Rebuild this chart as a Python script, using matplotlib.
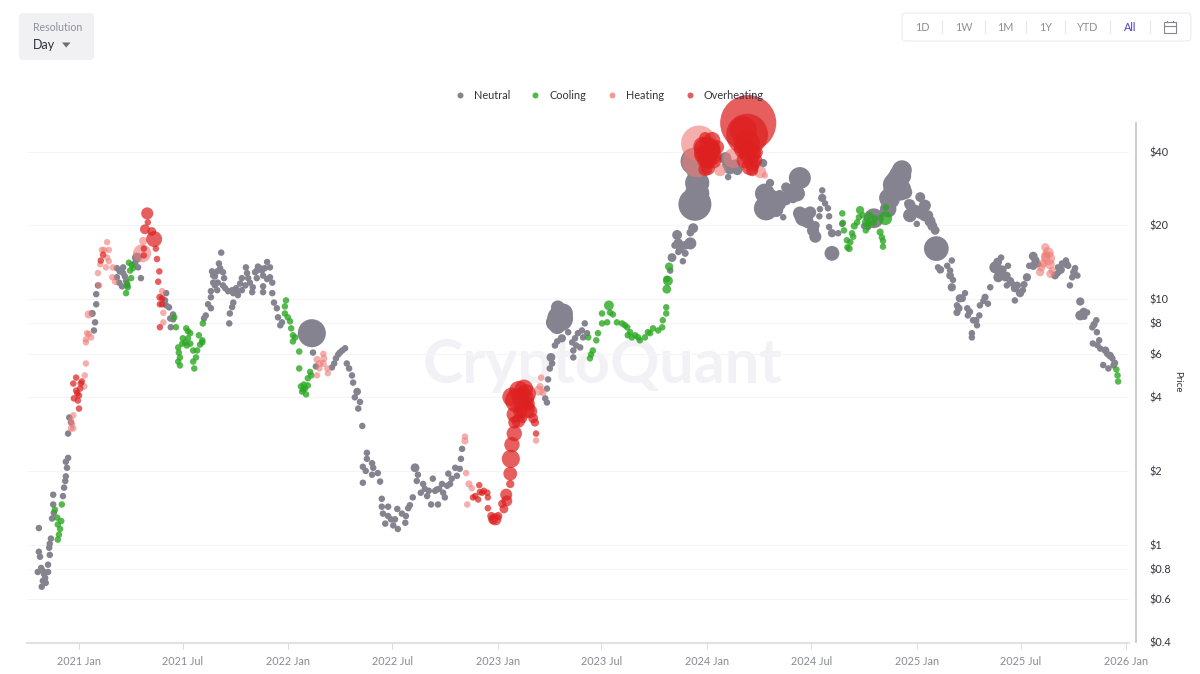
"""Token price coloured by market temperature, daily bubbles on a log scale."""
import matplotlib
matplotlib.use("Agg")
import matplotlib.dates as mdates
import matplotlib.pyplot as plt
import pandas as pd
from matplotlib.patches import FancyBboxPatch, Polygon, Rectangle
from matplotlib.ticker import FixedLocator, NullLocator

plt.rcParams["font.family"] = ["Lato", "DejaVu Sans"]

# (days since 2021-01-01, price) - every normal sized bubble
neutral_small = [
    (-70, 1.17), (-70, .937), (-68, .894), (-72, .775), (-66, .805), (-63, .783), (-54, .775), (-54, .83),
    (-61, .76), (-59, .733), (-63, .713), (-58, .70), (-65, .675), (-51, .91), (-52, .973), (-51, 1.01),
    (-49, 1.06), (-47, 1.28), (-45, 1.46), (-45, 1.60), (-44, 1.35), (-28, 1.58), (-26, 1.71), (-24, 1.82),
    (-23, 1.90), (-21, 2.06), (-23, 2.18), (-19, 2.26), (-19, 2.84), (-17, 3.30), (-14, 3.15),
    (26, 7.47), (28, 8.06), (30, 9.55), (30, 10.5), (33, 11.4), (66, 13.4), (77, 13.5), (66, 12.3), (70, 11.7),
    (75, 11.3), (77, 12.8), (82, 11.9), (84, 11.4), (71, 13.0), (80, 12.4), (108, 12.2), (103, 13.5), (98, 14.1),
    (152, 10.6), (152, 9.45), (157, 9.28), (164, 8.68), (159, 8.36), (164, 8.29), (160, 7.7), (150, 9.9),
    (221, 8.6), (218, 8.36), (225, 9.55), (230, 9.2), (230, 10.2), (230, 10.8), (241, 10.9), (237, 11.4),
    (242, 11.7), (234, 11.7), (237, 12.4), (232, 13.0), (234, 12.5), (241, 13.0), (246, 13.4), (244, 14.0),
    (248, 15.5), (251, 12.9), (253, 12.2), (251, 11.4), (255, 11.1), (260, 10.8), (269, 10.6), (277, 10.4),
    (276, 10.7), (284, 10.9), (281, 11.6), (284, 12.2), (293, 12.8), (295, 12.2), (291, 13.5), (302, 10.7),
    (303, 11.2), (310, 12.2), (310, 13.1), (316, 13.4), (328, 14.2), (333, 13.5), (321, 12.5), (333, 12.3),
    (328, 12.1), (337, 11.7), (321, 11.3), (321, 10.7), (337, 10.6), (269, 9.7), (267, 9.3), (263, 8.76),
    (262, 7.98), (340, 9.7), (345, 9.2), (347, 8.45), (354, 8.06), (351, 7.84), (307, 12.9), (319, 13.1),
    (324, 13.4), (312, 13.6), (298, 11.7), (290, 11.4), (267, 10.9), (274, 11.1),
    (408, 6.07), (413, 5.33), (441, 5.28), (445, 5.48), (452, 5.96), (459, 6.19), (464, 6.32), (448, 5.75),
    (455, 6.07), (467, 5.48), (471, 5.23), (476, 4.9), (478, 4.58), (481, 3.99), (490, 3.82), (487, 3.59),
    (494, 3.05), (495, 1.79), (502, 2.37), (502, 2.24), (495, 2.08), (500, 2.0), (511, 2.15), (513, 2.06),
    (511, 1.93), (521, 1.96), (525, 1.81), (528, 1.54), (528, 1.43), (539, 1.43), (530, 1.34), (539, 1.31),
    (534, 1.22), (548, 1.2), (555, 1.40), (551, 1.27), (556, 1.16), (544, 1.27), (563, 1.34), (569, 1.23),
    (577, 1.45), (582, 1.56), (591, 1.93), (589, 1.82), (600, 1.77), (596, 1.63), (607, 1.58), (614, 1.46),
    (617, 1.86), (621, 1.66), (626, 1.46), (633, 1.77), (635, 1.63), (638, 1.56), (644, 1.95), (647, 1.77),
    (656, 2.06), (659, 1.91), (664, 2.04), (666, 2.24), (668, 2.46), (603, 1.69), (610, 1.66), (624, 1.68),
    (628, 1.69), (642, 1.74), (650, 1.86), (570, 1.31), (574, 1.41),
    (818, 4.72), (816, 4.33), (813, 3.95), (816, 3.8), (853, 7.35), (860, 6.68), (862, 6.19), (862, 5.8),
    (870, 7.28), (877, 7.47), (882, 7.98), (886, 7.28), (874, 6.37), (867, 6.49), (879, 7.0),
    (1031, 13.1), (1053, 14.3), (1045, 15.6), (1132, 31.5), (1228, 21.6), (1291, 21.8), (1292, 23.3),
    (1296, 27.8), (1301, 24.6), (1306, 23.5), (1308, 19.7), (1324, 18.6), (1331, 20.3), (1369, 19.9),
    (1376, 19.7), (1461, 20.3), (1498, 13.5), (1514, 13.7), (1522, 14.4), (1519, 13.1), (1524, 12),
    (1545, 10.6), (1531, 9.45), (1549, 9.2), (1550, 8.6), (1559, 8.22), (1570, 8.6), (1566, 7.84),
    (1557, 7.28), (1557, 7.0), (1571, 9.45), (1585, 9.6), (1577, 9.85), (1589, 11.2), (1608, 14.8),
    (1620, 13.7), (1618, 11.4), (1615, 12.2), (1627, 11.6), (1632, 9.9), (1646, 10.9), (1657, 13.7),
    (1673, 13.9), (1612, 12.6), (1707, 12.8), (1707, 13.5), (1714, 14), (1721, 14.4), (1725, 13.7),
    (1737, 13.4), (1732, 12.3), (1741, 12.5), (1728, 11.4), (1758, 8.84), (1753, 8.5), (1774, 8.22),
    (1767, 7.69), (1775, 7.35), (1768, 6.61), (1779, 6.81), (1781, 6.3), (1786, 5.4), (1793, 6.0),
    (1802, 5.75), (1795, 5.23), (1804, 5.38),
]
# (days, price, relative bubble width)
neutral_large = [
    (23, 8.76, 1.3), (101, 14.8, 1.8), (406, 7.28, 5.1), (485, 4.21, 1.4), (586, 2.06, 1.6),
    (821, 5.23, 1.2), (825, 5.48, 1.2), (823, 5.8, 1.6), (830, 6.49, 1.2), (834, 6.74, 1.2),
    (835, 9.28, 2.5), (844, 8.76, 3.6), (830, 8.06, 3.3), (839, 8.36, 4.7), (842, 6.94, 1.5), (865, 6.94, 1.2),
    (834, 7.8, 3),
    (1034, 14.8, 1.6), (1039, 16.6, 1.3), (1043, 18.3, 1.8), (1057, 15.4, 1.3), (1066, 16.9, 2.2),
    (1066, 18.7, 1.4), (1071, 19.5, 1.8), (1048, 16.6, 1.5), (1074, 24.4, 6), (1078, 29.8, 4.4),
    (1073, 37.6, 2.9), (1076, 33.5, 3.5), (1127, 37.6, 2.2), (1135, 34.2, 2.2), (1148, 33.6, 1.8),
    (1057, 16.6, 1.6), (1045, 16.9, 1.8), (1048, 16, 1.5), (1078, 27, 4.4), (1073, 36.5, 5),
    (1132, 35.5, 2.2), (1144, 35.5, 1.8),
    (1193, 35.9, 1.5), (1198, 23.5, 4.4), (1196, 27, 3.6), (1205, 29.8, 1.5), (1219, 24.6, 2.9),
    (1233, 28.6, 1.8), (1257, 31.2, 4), (1252, 27, 2.9), (1245, 25.8, 1.8), (1222, 26.5, 2),
    (1209, 25.9, 2.9), (1240, 26.5, 2.5), (1249, 28.3, 2.5), (1216, 23.1, 2.5), (1233, 25.3, 1.8),
    (1264, 21.6, 3.3), (1275, 22.6, 2.2), (1280, 19.1, 2.2), (1296, 25.9, 1.5), (1308, 21.8, 1.1),
    (1271, 20.6, 2.2), (1257, 22.4, 2.5), (1284, 20, 1.6), (1284, 18, 2.2),
    (1313, 18.6, 1.5), (1313, 15.4, 2.7), (1386, 21.4, 3.6), (1411, 25.9, 3.3), (1427, 30.6, 4),
    (1435, 33.6, 3.6), (1420, 27.8, 3.6), (1441, 27.3, 2.5), (1446, 24.6, 1.5), (1449, 22, 2.5),
    (1432, 32, 4), (1423, 29.3, 4.4), (1414, 25.6, 3.6), (1432, 28, 4), (1411, 23.3, 3), (1449, 24.3, 2),
    (1458, 23.1, 2), (1467, 22.4, 2), (1475, 22, 2.2), (1484, 20.8, 2), (1493, 19.1, 1.6),
    (1467, 26.1, 1.8), (1475, 24.1, 2.2), (1481, 22, 1.8), (1488, 19.9, 1.8), (1495, 16.1, 4.5),
    (1522, 11.2, 1.5), (1536, 10.1, 1.5), (1531, 8.84, 1.3), (1540, 10.1, 1.4), (1580, 10.2, 1.3),
    (1598, 13.5, 2.2), (1603, 12.3, 1.8), (1606, 13, 2), (1632, 11.1, 1.5), (1641, 10.6, 1.5),
    (1653, 12.3, 1.5), (1664, 15, 1.6), (1664, 13.7, 1.5), (1746, 9.8, 1.5), (1746, 8.6, 1.8),
    (1502, 13.2, 1.4), (1519, 12.5, 1.4), (1534, 9.2, 1.4), (1553, 8.9, 1.3), (1564, 8.2, 1.3),
    (1602, 14.2, 1.6), (1610, 13.2, 1.6), (1618, 12.5, 1.4), (1624, 11.9, 1.4), (1636, 11.4, 1.4),
    (1648, 11.5, 1.3), (1668, 14.4, 1.5), (1702, 12.5, 1.4), (1712, 13.2, 1.5), (1722, 13.9, 1.4),
    (1735, 12.9, 1.4), (1752, 8.9, 1.5), (1770, 7.9, 1.3), (1776, 6.5, 1.2), (1790, 6.2, 1.4),
    (1798, 5.9, 1.4), (1806, 5.5, 1.3),
]
cooling_small = [
    (-30, 1.46), (-42, 1.39), (-38, 1.29), (-37, 1.21), (-31, 1.25), (-33, 1.16), (-35, 1.10), (-37, 1.05),
    (82, 10.6), (84, 11.6), (85, 11.2), (91, 12.2), (89, 13.1), (87, 14.1), (94, 13.4), (92, 13.8),
    (166, 8.45), (169, 7.7), (187, 7.62), (194, 7.28), (190, 7.42), (209, 7.14), (215, 6.81), (181, 6.94),
    (190, 6.94), (173, 6.37), (174, 6.07), (176, 5.8), (173, 5.58), (176, 5.38), (180, 6.6), (194, 6.6),
    (201, 5.23), (199, 5.58), (204, 5.8), (206, 6.19), (199, 6.19), (211, 6.54), (215, 6.68), (185, 6.68),
    (188, 6.49), (361, 9.9), (359, 9.36), (359, 8.76), (364, 8.45), (368, 8.14), (370, 7.62), (373, 7.14),
    (377, 7.0), (373, 6.74), (384, 6.13), (384, 5.23), (403, 5.06), (405, 4.9), (399, 4.77), (399, 4.46),
    (391, 4.29), (389, 4.21), (396, 4.1), (394, 4.33), (387, 4.42), (392, 4.5),
    (888, 7.0), (896, 6.19), (891, 5.75), (893, 5.96), (902, 6.81), (905, 7.28), (912, 7.98), (912, 8.76),
    (921, 8.06), (926, 8.84), (931, 8.68), (938, 8.06), (947, 7.98), (956, 7.69), (961, 7.35), (957, 7.14),
    (970, 7.14), (978, 6.81), (987, 7.0), (992, 7.35), (1001, 7.62), (1010, 7.47), (1017, 7.69), (1018, 8.22),
    (1024, 8.76), (1024, 9.28), (952, 7.84), (964, 7.0), (975, 7.0), (996, 7.28),
    (1331, 22.4), (1332, 20.5), (1334, 19.1), (1339, 17.4), (1345, 17.1), (1348, 18.6), (1360, 21.6),
    (1407, 23.7), (1400, 17.9), (1402, 17.3), (1402, 16.4), (1372, 19.1), (1357, 20.6), (1388, 21.4),
    (1367, 22), (1376, 20), (1386, 20.5), (1350, 18), (1340, 16.3),
    (1809, 5.18), (1811, 4.9), (1812, 4.63),
]
cooling_large = [
    (216, 7.98, 1.2), (924, 9.45, 1.8), (1027, 11.9, 1.8), (1025, 11.0, 1.6), (1029, 13.6, 1.5), (1025, 12.1, 1.3),
    (1343, 16.1, 1.3), (1352, 19.9, 1.3), (1362, 23.1, 1.5), (1374, 20.6, 1.8), (1406, 21.4, 2.5),
    (1397, 18.8, 1.3), (1379, 22, 1.3),
]
heating_small = [
    (-10, 3.37), (-14, 2.98), (-10, 2.98), (-14, 3.21), (-12, 3.10), (9, 4.42), (10, 4.90), (12, 5.48),
    (12, 6.68), (14, 7.28), (12, 6.87), (17, 7.21), (21, 7.0), (35, 11.4), (33, 12.8), (37, 13.9), (40, 15.9),
    (49, 17.1), (52, 15.9), (49, 14.8), (47, 13.5), (52, 14.3), (59, 13.5), (58, 12.3), (63, 11.8), (44, 15.9),
    (145, 10.8), (147, 8.06), (147, 8.82), (426, 6.0), (433, 5.23), (434, 5.0), (415, 4.9), (419, 5.23),
    (685, 1.7), (677, 1.46), (673, 2.76), (675, 1.96), (806, 4.8), (797, 2.66), (1196, 32),
]
heating_large = [
    (17, 8.68, 1.5), (110, 15.4, 3.3), (112, 17.3, 1.5), (415, 5.69, 1.3), (420, 5.48, 1.3), (426, 5.48, 1.3),
    (427, 5.75, 1.3), (673, 2.65, 1.3), (680, 1.77, 1.3), (802, 4.25, 1.8), (804, 4.42, 1.3), (809, 4.17, 1.3),
    (1078, 36.2, 5.5), (1081, 43.2, 6.5), (1118, 33.6, 2.2), (1141, 37.6, 3.6), (1188, 33, 2.2),
    (1685, 16.3, 1.5), (1690, 14.7, 2.5), (1681, 14, 1.5), (1676, 12.9, 1.5), (1697, 13.1, 1.3),
    (1693, 13.9, 1.8), (1686, 15, 1.8), (1690, 15.5, 2), (1678, 13.5, 1.5), (1694, 12.7, 1.5),
]
overheating_small = [
    (0, 3.59), (-9, 3.95), (-2, 3.87), (0, 4.06), (-5, 4.25), (2, 4.33), (-10, 4.54), (-5, 4.80), (5, 4.63),
    (3, 4.54), (-3, 4.14), (42, 15.2), (38, 14.4), (113, 15.1), (113, 16.1), (120, 20.6), (134, 16.1),
    (136, 14.6), (140, 13.0), (138, 11.8), (145, 10.1), (141, 9.55), (145, 9.55), (141, 7.7),
    (698, 1.75), (691, 1.58), (696, 1.53), (703, 1.63), (712, 1.63), (713, 1.56), (699, 1.64), (706, 1.66),
    (687, 1.56), (797, 2.84),
]
overheating_large = [
    (119, 22.4, 2.2), (115, 19.3, 1.8), (127, 18.9, 1.6), (131, 17.6, 2.9), (141, 10.2, 1.3),
    (713, 1.41, 1.2), (719, 1.31, 1.5), (722, 1.27, 1.8), (726, 1.27, 2.2), (731, 1.31, 1.5), (738, 1.47, 1.5),
    (745, 1.6, 2.2), (746, 1.51, 2), (741, 1.40, 1.6), (752, 1.77, 1.5), (752, 1.95, 2.5), (753, 2.24, 3.3),
    (755, 2.56, 2.8), (759, 2.84, 2.8), (759, 3.15, 2.2), (776, 4.33, 3.3), (764, 3.87, 4.4), (774, 3.95, 4),
    (783, 3.75, 2.5), (769, 3.5, 2.5), (773, 3.28, 1.8), (792, 3.28, 1.8), (795, 3.15, 1.5), (760, 3.4, 3),
    (780, 4.12, 3.5), (767, 4.25, 3.5), (755, 4.0, 3.5), (778, 3.58, 3.5), (787, 3.5, 2.5), (766, 3.2, 2.5),
    (1092, 45.4, 2.2), (1095, 40.6, 4.7), (1100, 40.6, 4), (1092, 36.9, 2.9), (1097, 34.2, 2.5),
    (1113, 41.7, 2.5), (1104, 44.5, 3), (1087, 38.8, 3), (1088, 42, 3.5), (1104, 38.5, 3.5), (1097, 37, 3.2),
    (1092, 33.9, 2.5), (1106, 36.9, 3),
    (1167, 52.3, 10.2), (1165, 46.9, 7.6), (1165, 43.4, 4.7), (1170, 39.3, 4), (1174, 35.9, 2.9),
    (1182, 39.7, 2.2), (1161, 41.3, 4), (1158, 49, 5), (1167, 40.5, 3.5), (1170, 34.8, 3.2), (1161, 36.9, 3),
    (1179, 36.9, 2.6), (1174, 33.6, 2.2),
]

price_ticks = [0.4, 0.6, 0.8, 1, 2, 4, 6, 8, 10, 20, 40]
range_buttons = ["1D", "1W", "1M", "1Y", "YTD", "All"]

START = pd.Timestamp("2021-01-01")
BASE_PX = 5.5  # width of a bubble with relative width 1
MIN_PX = 6.5


def scatter_series(ax, small, large, color, alpha):
    rows = [(d, p, 1.0) for d, p in small] + list(large)
    rows.sort(key=lambda r: r[0])
    dates = [START + pd.Timedelta(days=r[0]) for r in rows]
    prices = [r[1] for r in rows]
    areas = [(max(r[2] * BASE_PX, MIN_PX) * 0.72) ** 2 for r in rows]
    ax.scatter(dates, prices, s=areas, color=color, alpha=alpha, linewidths=0, clip_on=False, zorder=3)


fig = plt.figure(figsize=(12, 6.74), dpi=100)
ax = fig.add_axes([27 / 1200, (674 - 642.5) / 674, (1129 - 27) / 1200, (642.5 - 123) / 674])
ax.patch.set_alpha(0)

ax.text(0.522, 0.534, "CryptoQuant", transform=ax.transAxes, fontsize=44, fontweight="bold", color="#f1f1f6",
        ha="center", va="center", zorder=0)

scatter_series(ax, neutral_small, neutral_large, "#85838f", 1.0)
scatter_series(ax, cooling_small, cooling_large, "#2aa822", 0.8)
scatter_series(ax, heating_small, heating_large, "#ee7b76", 0.6)
scatter_series(ax, overheating_small, overheating_large, "#de2020", 0.72)

ax.set_yscale("log")
ax.set_ylim(0.4, 52.3)
ax.set_xlim(START + pd.Timedelta(days=-90.7), START + pd.Timedelta(days=1831))
ax.yaxis.set_major_locator(FixedLocator(price_ticks))
ax.yaxis.set_minor_locator(NullLocator())
ax.set_yticklabels([f"${t:g}" for t in price_ticks])
ax.yaxis.tick_right()
ax.tick_params(axis="y", length=0, pad=14.5, labelsize=7.8, labelcolor="#33333d")
ax.grid(True, axis="y", color="#f5f5f6", linewidth=0.8, zorder=1)

ax.xaxis.set_major_locator(mdates.MonthLocator(bymonth=[1, 7]))
ax.xaxis.set_major_formatter(mdates.DateFormatter("%Y %b"))
ax.tick_params(axis="x", length=4.5, width=0.8, color="#dcdce0", pad=5.2, labelsize=7.8, labelcolor="#8a8a94")

for side in ["top", "left", "right"]:
    ax.spines[side].set_visible(False)
ax.spines["bottom"].set_color("#dcdce0")
ax.spines["bottom"].set_linewidth(1.2)

# everything else is page furniture, drawn in pixel coordinates
ui = fig.add_axes([0, 0, 1, 1], zorder=5)
ui.set_xlim(0, 1200)
ui.set_ylim(674, 0)
ui.axis("off")

ui.plot([1136, 1136], [123, 642], color="#c8c8cc", linewidth=1.3)
ui.text(1178, 382, "Price", rotation=270, fontsize=7.0, color="#33333d", ha="center", va="center")

# resolution picker
ui.add_patch(FancyBboxPatch((22, 16), 69, 41, boxstyle="round,pad=3,rounding_size=4",
                            facecolor="#f1f1f4", edgecolor="none"))
ui.text(32.5, 27.5, "Resolution", fontsize=7.6, color="#8f8f99", va="center")
ui.text(32.5, 45, "Day", fontsize=9, color="#30303a", va="center")
ui.add_patch(Polygon([[62, 42.5], [70.5, 42.5], [66.2, 47.5]], closed=True, facecolor="#6b6b75", edgecolor="none"))

# range buttons
ui.add_patch(FancyBboxPatch((905, 16), 283, 22, boxstyle="round,pad=3,rounding_size=4",
                            facecolor="white", edgecolor="#eeeef0", linewidth=0.9))
button_x = [922.5, 963.5, 1005.5, 1046, 1088, 1130]
for label, x in zip(range_buttons, button_x):
    color = "#4a3fc4" if label == "All" else "#8f8f99"
    ui.text(x, 27.5, label, fontsize=7.8, color=color, ha="center", va="center")
for x in [942, 984.5, 1026, 1064.5, 1110, 1149.5]:
    ui.plot([x, x], [21, 33], color="#e6e6e9", linewidth=0.8)
ui.add_patch(Rectangle((1164, 22), 11.5, 11, facecolor="none", edgecolor="#85858f", linewidth=0.8))
ui.plot([1164, 1175.5], [25.5, 25.5], color="#85858f", linewidth=0.8)
ui.plot([1167, 1167], [20.5, 22], color="#85858f", linewidth=0.8)
ui.plot([1172.5, 1172.5], [20.5, 22], color="#85858f", linewidth=0.8)

# legend
legend_items = [("Neutral", 460, "#85838f"), ("Cooling", 535, "#52b84b"),
                ("Heating", 612, "#f29b97"), ("Overheating", 690, "#dd5f5f")]
for label, x, color in legend_items:
    ui.scatter([x], [95], s=(6 * 0.72) ** 2, color=color, linewidths=0)
    ui.text(x + 14, 95.5, label, fontsize=7.8, color="#33333d", va="center")

fig.savefig("out.png", dpi=100)
